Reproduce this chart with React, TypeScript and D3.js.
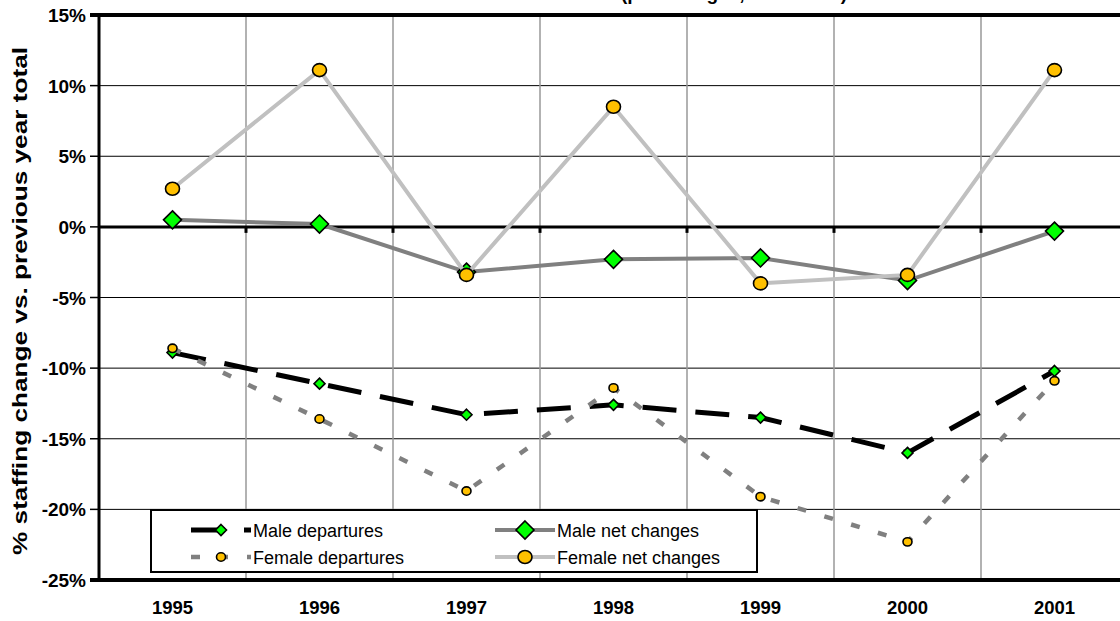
import React from "react";
import * as d3 from "d3";

const years = ["1995", "1996", "1997", "1998", "1999", "2000", "2001"];
const maleDepartures = [-8.9, -11.1, -13.3, -12.6, -13.5, -16.0, -10.2];
const femaleDepartures = [-8.6, -13.6, -18.7, -11.4, -19.1, -22.3, -10.9];
const maleNet = [0.5, 0.2, -3.2, -2.3, -2.2, -3.8, -0.3];
const femaleNet = [2.7, 11.1, -3.4, 8.5, -4.0, -3.4, 11.1];
const yTicks = [15, 10, 5, 0, -5, -10, -15, -20, -25];

const W = 1120;
const H = 621;
const left = 99;
const right = 1128;
const top = 15;
const bottom = 580;

type Marker = "diamond" | "circle";
interface Series {
  name: string;
  values: number[];
  stroke: string;
  width: number;
  dash?: string;
  marker: Marker;
  size: number;
  fill: string;
}

const series: Series[] = [
  { name: "Male departures", values: maleDepartures, stroke: "#000", width: 5, dash: "34 19", marker: "diamond", size: 5.5, fill: "#00ff00" },
  { name: "Female departures", values: femaleDepartures, stroke: "#808080", width: 4.5, dash: "9 19", marker: "circle", size: 4.5, fill: "#ffc000" },
  { name: "Male net changes", values: maleNet, stroke: "#808080", width: 4, marker: "diamond", size: 9, fill: "#00ff00" },
  { name: "Female net changes", values: femaleNet, stroke: "#c0c0c0", width: 4, marker: "circle", size: 7, fill: "#ffc000" },
];

const font = "'Liberation Sans', Arial, sans-serif";

function MarkerShape({ s, cx, cy }: { s: Series; cx: number; cy: number }) {
  if (s.marker === "diamond") {
    const r = s.size;
    return (
      <path
        d={`M${cx},${cy - r}L${cx + r},${cy}L${cx},${cy + r}L${cx - r},${cy}Z`}
        fill={s.fill}
        stroke="#000"
        strokeWidth={1.6}
      />
    );
  }
  return <ellipse cx={cx} cy={cy} rx={s.size} ry={s.size * 0.93} fill={s.fill} stroke="#000" strokeWidth={1.6} />;
}

export default function App() {
  const x = d3.scaleBand<string>().domain(years).range([left, right]);
  const y = d3.scaleLinear().domain([-25, 15]).range([bottom, top]);
  const cx = (yr: string) => (x(yr) as number) + x.bandwidth() / 2;
  const boundaries = years.slice(1).map((yr) => x(yr) as number);

  const line = d3
    .line<number>()
    .x((_, i) => cx(years[i]))
    .y((v) => y(v));

  const legendItems = [
    { s: series[0], lx: 191, ly: 530 },
    { s: series[2], lx: 495, ly: 530 },
    { s: series[1], lx: 191, ly: 557 },
    { s: series[3], lx: 495, ly: 557 },
  ];

  return (
    <svg
      width={W}
      height={H}
      style={{ position: "absolute", left: 0, top: 0, background: "#fff" }}
      fontFamily={font}
    >
      {/* title, cut off at the top edge as in the reference */}
      <text x={615} y={0} textAnchor="end" fontSize={19} fontWeight="bold" fill="#000">
        Male and Female Staff Turnover
      </text>
      <text x={621} y={0} textAnchor="start" fontSize={19} fontWeight="bold" fill="#000">
        (percentages, 1995-2001)
      </text>

      {/* horizontal grid lines */}
      {yTicks.filter((t) => t !== 0 && t !== 15 && t !== -25).map((t) => (
        <line key={"h" + t} x1={left} x2={right} y1={y(t)} y2={y(t)} stroke="#000" strokeWidth={1} />
      ))}
      {/* vertical grid lines */}
      {boundaries.map((b, i) => (
        <line key={"v" + i} x1={b} x2={b} y1={top} y2={bottom} stroke="#999" strokeWidth={1.5} />
      ))}
      {/* zero line with ticks */}
      <line x1={left} x2={right} y1={y(0)} y2={y(0)} stroke="#000" strokeWidth={3} />
      {boundaries.map((b, i) => (
        <line key={"zt" + i} x1={b} x2={b} y1={y(0)} y2={y(0) + 6} stroke="#000" strokeWidth={3} />
      ))}
      {/* frame */}
      <line x1={left - 9} x2={right} y1={top} y2={top} stroke="#000" strokeWidth={4} />
      <line x1={left - 9} x2={right} y1={bottom} y2={bottom} stroke="#000" strokeWidth={4} />
      <line x1={left} x2={left} y1={top} y2={bottom} stroke="#000" strokeWidth={3} />
      {yTicks.map((t) => (
        <line key={"yt" + t} x1={left - 9} x2={left} y1={y(t)} y2={y(t)} stroke="#000" strokeWidth={1.5} />
      ))}

      {/* y tick labels */}
      {yTicks.map((t) => (
        <text key={"yl" + t} x={86} y={y(t) + 7} textAnchor="end" fontSize={19} fontWeight="bold">
          {t}%
        </text>
      ))}
      {/* x tick labels */}
      {years.map((yr) => (
        <text key={"xl" + yr} x={cx(yr)} y={614} textAnchor="middle" fontSize={18.5} fontWeight="bold">
          {yr}
        </text>
      ))}
      {/* y axis title */}
      <text
        transform={`translate(27,301) rotate(-90)`}
        textAnchor="middle"
        fontSize={20.5}
        fontWeight="bold"
        textLength={508}
        lengthAdjust="spacingAndGlyphs"
      >
        % staffing change vs. previous year total
      </text>

      {/* series */}
      {series.map((s) => (
        <g key={s.name}>
          <path
            d={line(s.values) || ""}
            fill="none"
            stroke={s.stroke}
            strokeWidth={s.width}
            strokeDasharray={s.dash}
          />
          {s.values.map((v, i) => (
            <MarkerShape key={i} s={s} cx={cx(years[i])} cy={y(v)} />
          ))}
        </g>
      ))}

      {/* legend */}
      <rect x={151} y={510} width={606} height={62} fill="#fff" stroke="#000" strokeWidth={2} />
      {legendItems.map(({ s, lx, ly }) => (
        <g key={"lg" + s.name}>
          <line
            x1={lx}
            x2={lx + 60}
            y1={ly}
            y2={ly}
            stroke={s.stroke}
            strokeWidth={s.width}
            strokeDasharray={s.dash}
          />
          <MarkerShape s={s} cx={lx + 30} cy={ly} />
          <text x={lx + 62} y={ly + 7} fontSize={18}>
            {s.name}
          </text>
        </g>
      ))}
    </svg>
  );
}
